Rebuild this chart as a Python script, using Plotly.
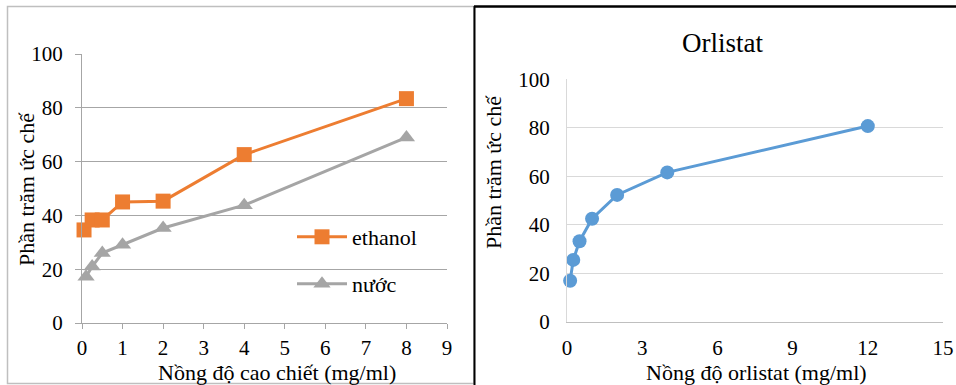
import plotly.graph_objects as go

# ---- data ----
eth_x = [0.05, 0.25, 0.5, 1, 2, 4, 8]
eth_y = [34.6, 38.3, 38.3, 45.0, 45.3, 62.6, 83.4]
water_x = [0.1, 0.25, 0.5, 1, 2, 4, 8]
water_y = [17.2, 21.0, 26.0, 29.1, 35.3, 43.8, 69.0]
orl_x = [0.125, 0.25, 0.5, 1, 2, 4, 12]
orl_y = [16.9, 25.5, 33.2, 42.5, 52.3, 61.6, 80.7]

left_xticks = list(range(0, 10))
right_xticks = [0, 3, 6, 9, 12, 15]
yticks = [0, 20, 40, 60, 80, 100]

W, H = 956, 385
FONT = "Liberation Serif, Times New Roman, serif"
ORANGE = "#ED7D31"
GRAY = "#A5A5A5"
BLUE = "#5B9BD5"


def px(x):
    return x / W


def py(y):
    return 1 - y / H


fig = go.Figure()
fig.add_trace(go.Scatter(x=eth_x, y=eth_y, mode="lines+markers", name="ethanol",
                         line=dict(color=ORANGE, width=3),
                         marker=dict(symbol="square", size=15, color=ORANGE),
                         cliponaxis=False, xaxis="x", yaxis="y", legend="legend"))
fig.add_trace(go.Scatter(x=water_x, y=water_y, mode="lines+markers", name="nước",
                         line=dict(color=GRAY, width=3),
                         marker=dict(symbol="triangle-up", size=15, color=GRAY),
                         cliponaxis=False, xaxis="x", yaxis="y", legend="legend2"))
fig.add_trace(go.Scatter(x=orl_x, y=orl_y, mode="lines+markers", name="Orlistat",
                         line=dict(color=BLUE, width=3),
                         marker=dict(symbol="circle", size=14, color=BLUE),
                         cliponaxis=False, xaxis="x2", yaxis="y2", showlegend=False))

tickfont = dict(family=FONT, size=21, color="black")
leg_font = dict(family=FONT, size=22, color="black")

fig.update_layout(
    width=W, height=H,
    margin=dict(l=0, r=0, t=0, b=0, autoexpand=False),
    paper_bgcolor="white", plot_bgcolor="white",
    font=dict(family=FONT, color="black"),
    xaxis=dict(domain=[px(82), px(447)], range=[0, 9], tickvals=left_xticks,
               showgrid=False, showline=True, linecolor="#a6a6a6", linewidth=1,
               ticks="outside", ticklen=5, tickcolor="#a6a6a6", tickfont=tickfont,
               zeroline=False, anchor="y", ticklabelstandoff=1, automargin=False),
    yaxis=dict(domain=[py(323), py(54)], range=[0, 100], tickvals=yticks,
               showgrid=True, gridcolor="#a6a6a6", gridwidth=1,
               showline=True, linecolor="#a6a6a6", linewidth=1,
               ticks="outside", ticklen=6, tickcolor="#a6a6a6", tickfont=tickfont,
               zeroline=False, anchor="x", ticklabelstandoff=8, automargin=False),
    xaxis2=dict(domain=[px(567), px(943)], range=[0, 15], tickvals=right_xticks,
                showgrid=False, showline=True, linecolor="#bfbfbf", linewidth=1,
                ticks="", tickfont=tickfont, zeroline=False, anchor="y2",
                ticklabelstandoff=7, automargin=False),
    yaxis2=dict(domain=[py(321.7), py(79.3)], range=[0, 100], tickvals=yticks,
                showgrid=True, gridcolor="#d9d9d9", gridwidth=1,
                showline=True, linecolor="#d9d9d9", linewidth=1,
                ticks="", tickfont=tickfont, zeroline=False, anchor="x2",
                ticklabelstandoff=12, automargin=False),
    legend=dict(x=px(292), y=py(237), xanchor="left", yanchor="middle",
                bgcolor="rgba(0,0,0,0)", borderwidth=0, font=leg_font, itemwidth=50),
    legend2=dict(x=px(292), y=py(284), xanchor="left", yanchor="middle",
                 bgcolor="rgba(0,0,0,0)", borderwidth=0, font=leg_font, itemwidth=50),
)

annos = [
    dict(text="Phần trăm ức chế", x=px(26), y=py(189), textangle=-90, font=dict(size=22)),
    dict(text="Nồng độ cao chiết (mg/ml)", x=px(277), y=py(372), font=dict(size=22)),
    dict(text="Phần trăm ức chế", x=px(494), y=py(172), textangle=-90, font=dict(size=22)),
    dict(text="Nồng độ orlistat (mg/ml)", x=px(756), y=py(372), font=dict(size=22)),
    dict(text="Orlistat", x=px(722), y=py(43), font=dict(size=27)),
]
for a in annos:
    fig.add_annotation(xref="paper", yref="paper", showarrow=False,
                       xanchor="center", yanchor="middle",
                       font=dict(family=FONT, color="black", size=a["font"]["size"]),
                       text=a["text"], x=a["x"], y=a["y"], textangle=a.get("textangle", 0))

shapes = [
    dict(type="rect", x0=px(7.5), x1=px(474), y0=py(383.5), y1=py(6.5),
         line=dict(color="#bfbfbf", width=1.5)),
    dict(type="line", x0=px(474.5), x1=px(474.5), y0=py(6), y1=py(385),
         line=dict(color="black", width=2)),
    dict(type="line", x0=px(474), x1=px(956), y0=py(6.5), y1=py(6.5),
         line=dict(color="black", width=2.5)),
]
for s in shapes:
    fig.add_shape(xref="paper", yref="paper", layer="above", **s)

fig.write_html("out.html")
